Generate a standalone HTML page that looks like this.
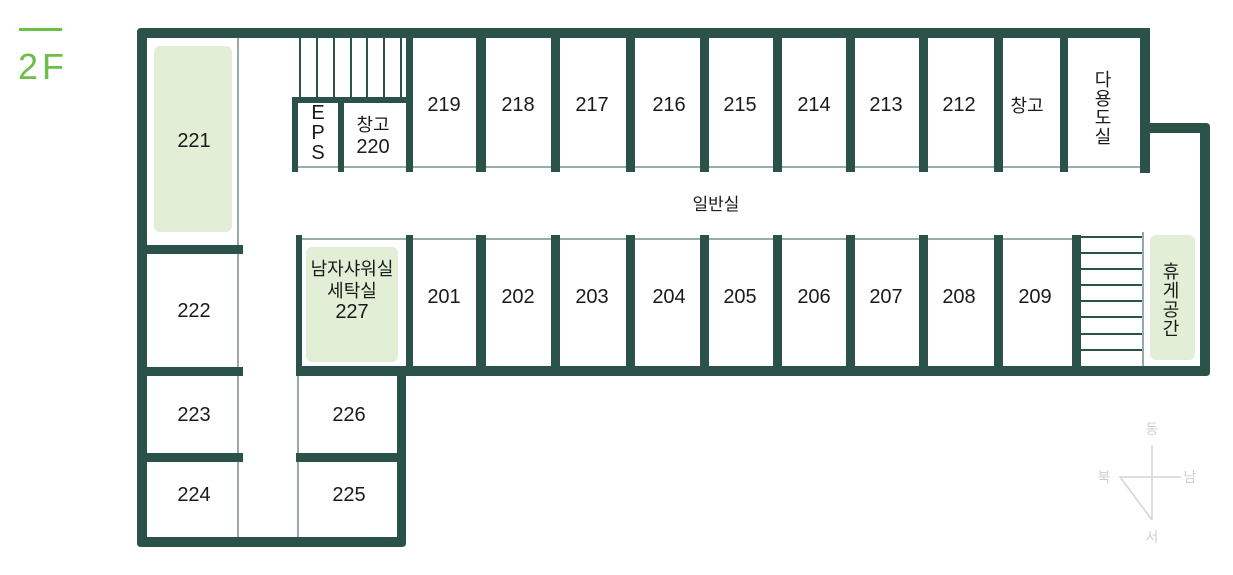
<!DOCTYPE html>
<html><head><meta charset="utf-8"><style>
html,body{margin:0;padding:0;background:#fff;width:1233px;height:575px;overflow:hidden}
svg text{font-family:"Liberation Sans","Noto Sans CJK KR",sans-serif;fill:#1a1a1a}
</style></head><body>
<svg width="1233" height="575" viewBox="0 0 1233 575" xmlns="http://www.w3.org/2000/svg">
<rect x="19" y="28" width="43" height="3" fill="#6cc04a"/>
<text x="18" y="79" font-size="36" style="fill:#6cc04a" letter-spacing="4">2F</text>
<rect x="154" y="46" width="78" height="186" rx="6" fill="#e2eed5"/>
<rect x="306" y="247" width="92" height="115" rx="6" fill="#e2eed5"/>
<rect x="1150" y="235" width="45" height="125" rx="6" fill="#e2eed5"/>
<g stroke="#5e7d75" stroke-width="1.3" fill="none">
<line x1="238" y1="38" x2="238" y2="538"/>
<line x1="298" y1="376" x2="298" y2="538"/>
<line x1="292" y1="167" x2="1142" y2="167"/>
<line x1="302" y1="239" x2="1077" y2="239"/>
<line x1="1143" y1="232" x2="1143" y2="367"/>
</g>
<g stroke="#2a5249" stroke-width="2" fill="none">
<line x1="300" y1="38" x2="300" y2="98"/><line x1="317" y1="38" x2="317" y2="98"/>
<line x1="334" y1="38" x2="334" y2="98"/><line x1="351" y1="38" x2="351" y2="98"/>
<line x1="367" y1="38" x2="367" y2="98"/><line x1="384" y1="38" x2="384" y2="98"/>
<line x1="401" y1="38" x2="401" y2="98"/>
<line x1="1081" y1="237" x2="1142" y2="237"/><line x1="1081" y1="253" x2="1142" y2="253"/>
<line x1="1081" y1="269" x2="1142" y2="269"/><line x1="1081" y1="285" x2="1142" y2="285"/>
<line x1="1081" y1="301" x2="1142" y2="301"/><line x1="1081" y1="317" x2="1142" y2="317"/>
<line x1="1081" y1="334" x2="1142" y2="334"/><line x1="1081" y1="350" x2="1142" y2="350"/>
</g>
<g fill="#2a5249">
<path d="M137,32 Q137,28 141,28 L1150,28 L1150,123 L1206,123 Q1210,123 1210,127 L1210,372 Q1210,376 1206,376 L406,376 L406,543 Q406,547 402,547 L141,547 Q137,547 137,543 Z M147,38 L147,537 L397,537 L397,366 L1200,366 L1200,133 L1140,133 L1140,38 Z"/>
<rect x="1140" y="120" width="10" height="53"/>
<rect x="147" y="245" width="96" height="9"/>
<rect x="147" y="367" width="96" height="9"/>
<rect x="147" y="453" width="96" height="9"/>
<rect x="296" y="453" width="101" height="9"/>
<rect x="296" y="366" width="101" height="10"/>
<rect x="292" y="97" width="120" height="6"/>
<rect x="292" y="97" width="6" height="75"/>
<rect x="338" y="97" width="6" height="75"/>
<rect x="406" y="38" width="7" height="134"/>
<rect x="476" y="38" width="10" height="134"/>
<rect x="551" y="38" width="9" height="134"/>
<rect x="626" y="38" width="9" height="134"/>
<rect x="700" y="38" width="9" height="134"/>
<rect x="773" y="38" width="9" height="134"/>
<rect x="846" y="38" width="9" height="134"/>
<rect x="919" y="38" width="9" height="134"/>
<rect x="994" y="38" width="9" height="134"/>
<rect x="1060" y="38" width="8" height="134"/>
<rect x="296" y="235" width="6" height="135"/>
<rect x="406" y="235" width="7" height="135"/>
<rect x="476" y="235" width="10" height="135"/>
<rect x="551" y="235" width="9" height="135"/>
<rect x="626" y="235" width="9" height="135"/>
<rect x="700" y="235" width="9" height="135"/>
<rect x="773" y="235" width="9" height="135"/>
<rect x="846" y="235" width="9" height="135"/>
<rect x="919" y="235" width="9" height="135"/>
<rect x="994" y="235" width="9" height="135"/>
<rect x="1072" y="235" width="9" height="135"/>
</g>
<g font-size="20" text-anchor="middle">
<text x="194" y="147">221</text>
<text x="194" y="317">222</text>
<text x="194" y="421">223</text>
<text x="194" y="501">224</text>
<text x="349" y="421">226</text>
<text x="349" y="501">225</text>
<text x="352" y="275" font-size="18">남자샤워실</text>
<text x="352" y="297" font-size="18">세탁실</text>
<text x="352" y="318">227</text>
<text x="373" y="131" font-size="18">창고</text>
<text x="373" y="153">220</text>
<text x="318" y="119" font-size="20">E</text>
<text x="318" y="139" font-size="20">P</text>
<text x="318" y="159" font-size="20">S</text>
<text x="444" y="111">219</text><text x="518" y="111">218</text><text x="592" y="111">217</text>
<text x="669" y="111">216</text><text x="740" y="111">215</text><text x="814" y="111">214</text>
<text x="886" y="111">213</text><text x="959" y="111">212</text>
<text x="1027" y="112" font-size="18">창고</text>
<text x="1103" y="86" font-size="18">다</text><text x="1103" y="105" font-size="18">용</text>
<text x="1103" y="124" font-size="18">도</text><text x="1103" y="143" font-size="18">실</text>
<text x="716" y="210" font-size="17">일반실</text>
<text x="444" y="303">201</text><text x="518" y="303">202</text><text x="592" y="303">203</text>
<text x="669" y="303">204</text><text x="740" y="303">205</text><text x="814" y="303">206</text>
<text x="886" y="303">207</text><text x="959" y="303">208</text><text x="1035" y="303">209</text>
<text x="1171" y="278" font-size="18">휴</text><text x="1171" y="297" font-size="18">게</text>
<text x="1171" y="316" font-size="18">공</text><text x="1171" y="335" font-size="18">간</text>
</g>
<g stroke="#d4d4d4" stroke-width="1.5" fill="none">
<line x1="1152" y1="445" x2="1152" y2="520"/>
<polyline points="1181,477 1120,477 1152,520"/>
</g>
<g font-size="14" text-anchor="middle">
<text x="1152" y="434" style="fill:#cfcfcf">동</text>
<text x="1104" y="482" style="fill:#cfcfcf">북</text>
<text x="1190" y="482" style="fill:#cfcfcf">남</text>
<text x="1152" y="542" style="fill:#cfcfcf">서</text>
</g>
</svg>
</body></html>
